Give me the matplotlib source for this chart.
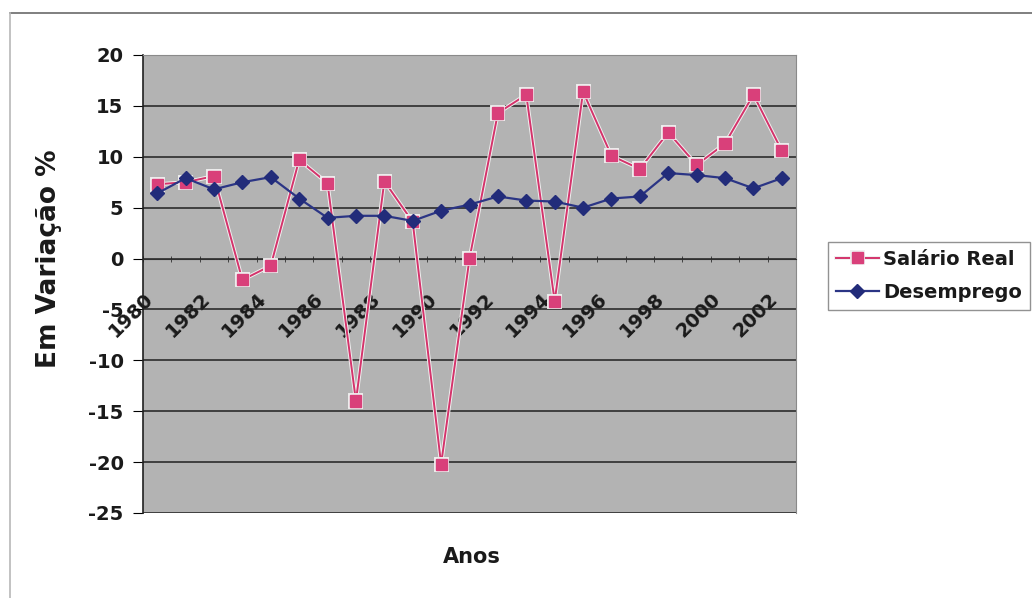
import matplotlib.pyplot as plt
import matplotlib.patheffects as pe
import matplotlib.transforms as mtransforms
from matplotlib.lines import Line2D
import numpy as np

# data (% variation per year)
anos = list(range(1980, 2003))
salario_real = [7.3, 7.5, 8.1, -2.1, -0.7, 9.7, 7.4, -14.0, 7.6, 3.6, -20.2, 0.0,
                14.3, 16.1, -4.2, 16.4, 10.1, 8.8, 12.4, 9.2, 11.3, 16.1, 10.6]
desemprego = [6.4, 7.9, 6.8, 7.5, 8.0, 5.9, 4.0, 4.2, 4.2, 3.7, 4.7, 5.3,
              6.1, 5.7, 5.6, 5.0, 5.9, 6.1, 8.4, 8.2, 7.9, 6.9, 7.9]
tick_labels = [str(a) for a in anos[::2]]

plt.rcParams["axes.unicode_minus"] = False
plt.rcParams["font.family"] = "DejaVu Sans"

W, H = 1032, 598
fig = plt.figure(figsize=(W / 100, H / 100), dpi=100)
ax = fig.add_axes([143 / W, 1 - 513 / H, (796 - 143) / W, (513 - 55) / H])

# chart area frame (only top and left visible in the scan)
fig.add_artist(Line2D([10 / W, 1], [1 - 13 / H, 1 - 13 / H], transform=fig.transFigure,
                      color="#6a6a6a", lw=1.2))
fig.add_artist(Line2D([10 / W, 10 / W], [0, 1 - 13 / H], transform=fig.transFigure,
                      color="#b8b8b8", lw=1.2))

ax.set_facecolor("#b3b3b3")
x = np.arange(len(anos))

ax.set_ylim(-25, 20)
ax.set_xlim(-0.5, len(anos) - 0.5)
ax.set_yticks(np.arange(-25, 21, 5))
ax.yaxis.grid(True, color="#202020", linewidth=1.1)
ax.set_axisbelow(True)

ax.plot(x, salario_real, color="#d4336b", lw=1.4, marker="s", ms=8,
        mfc="#d9407a", mec="#d9407a", label="Salário Real", zorder=3,
        path_effects=[pe.Stroke(linewidth=2.8, foreground="#f0f0f0"), pe.Normal()])
ax.plot(x, desemprego, color="#2b3585", lw=1.6, marker="D", ms=7,
        mfc="#222c7a", mec="#222c7a", label="Desemprego", zorder=4)

# category axis crosses at 0
ax.spines["bottom"].set_position(("data", 0))
ax.spines["bottom"].set_color("#303030")
ax.spines["left"].set_color("#202020")
ax.spines["left"].set_linewidth(1.2)
ax.spines["top"].set_color("#8a8a8a")
ax.spines["right"].set_color("#8a8a8a")

ax.set_xticks(x[::2])
ax.set_xticklabels(tick_labels, rotation=45, ha="right", va="center",
                   fontsize=14, fontweight="bold", rotation_mode="anchor", color="#1a1a1a")
ax.tick_params(axis="x", which="major", length=0, pad=27)
shift = mtransforms.ScaledTranslation(-7 / 100, 0, fig.dpi_scale_trans)
for lbl in ax.get_xticklabels():
    lbl.set_transform(lbl.get_transform() + shift)
ax.set_xticks(np.arange(-0.5, len(anos), 1), minor=True)
ax.tick_params(axis="x", which="minor", length=5, direction="inout", color="#303030")
ax.tick_params(axis="y", length=7, direction="out", labelsize=14, pad=7, labelcolor="#1a1a1a")
for lbl in ax.get_yticklabels():
    lbl.set_fontweight("bold")

fig.text(49 / W, 1 - 259 / H, "Em Variação %", rotation=90, fontsize=19,
         fontweight="bold", ha="center", va="center", color="#1a1a1a")
fig.text(472 / W, 1 - 557 / H, "Anos", fontsize=15, fontweight="bold",
         ha="center", va="center", color="#1a1a1a")

leg = ax.legend(loc="center left", bbox_to_anchor=(828 / W, 1 - 276 / H),
                bbox_transform=fig.transFigure, borderaxespad=0, frameon=True,
                fancybox=False, edgecolor="#777777", prop={"weight": "bold", "size": 14},
                handlelength=2.2, borderpad=0.4, labelspacing=0.75, handletextpad=0.25)
leg.get_frame().set_linewidth(1.0)
for t in leg.get_texts():
    t.set_color("#1a1a1a")

fig.savefig("out.png", dpi=100)
